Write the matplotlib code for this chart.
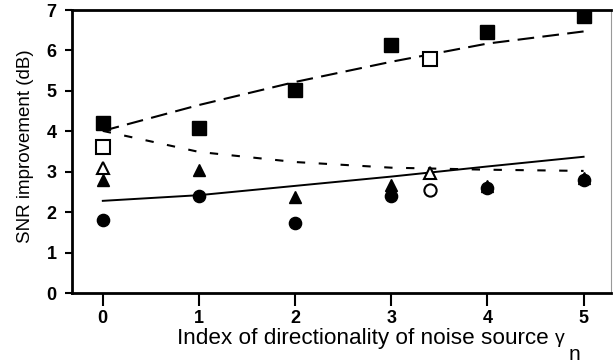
import matplotlib
matplotlib.use('Agg')
import matplotlib.pyplot as plt

plt.rcParams['font.family'] = ['Liberation Sans', 'DejaVu Sans']

# measured points
x_full = [0, 1, 2, 3, 4, 5]
sq_filled = [4.2, 4.08, 5.02, 6.14, 6.46, 6.86]
tri_filled = [2.8, 3.04, 2.38, 2.67, 2.65, 2.85]
circ_filled = [1.81, 2.4, 1.73, 2.4, 2.6, 2.8]

x_open = [0, 3.4]
sq_open = [3.61, 5.79]
tri_open = [3.09, 2.97]
x_circ_open = [3.4]
circ_open = [2.55]

# fitted curves
x_line = [0, 1, 2, 3, 4, 5]
long_dash = [4.01, 4.65, 5.22, 5.72, 6.17, 6.47]
short_dash = [4.01, 3.49, 3.24, 3.1, 3.05, 3.02]
solid = [2.28, 2.42, 2.65, 2.88, 3.13, 3.37]

fig = plt.figure(figsize=(6.13, 3.64), dpi=100)
ax = fig.add_axes([0.1175, 0.195, 0.88, 0.7775])

ax.plot(x_line, long_dash, color='black', lw=1.5, dashes=(8, 4))
ax.plot(x_line, short_dash, color='black', lw=1.5, dashes=(4, 6.5))
ax.plot(x_line, solid, color='black', lw=1.4)

ax.plot(x_full, sq_filled, 's', color='black', ms=10)
ax.plot(x_full, tri_filled, '^', color='black', ms=9)
ax.plot(x_full, circ_filled, 'o', color='black', ms=8.8)
ax.plot(x_open, sq_open, 's', mfc='white', mec='black', mew=1.5, ms=10)
ax.plot(x_open, tri_open, '^', mfc='white', mec='black', mew=1.5, ms=9)
ax.plot(x_circ_open, circ_open, 'o', mfc='white', mec='black', mew=1.5, ms=8.8)

ax.set_xlim(-0.32, 5.29)
ax.set_ylim(0, 7)
ax.set_xticks(x_full)
ax.set_yticks(range(8))
ax.tick_params(axis='x', direction='out', length=9, width=1.5, labelsize=13, pad=3)
ax.tick_params(axis='y', direction='out', length=5, width=1.5, labelsize=13, pad=6)
for lab in ax.get_xticklabels() + ax.get_yticklabels():
    lab.set_fontweight('bold')

for s in ['left', 'bottom', 'top']:
    ax.spines[s].set_linewidth(2)
ax.spines['right'].set_linewidth(0.8)
ax.spines['right'].set_color('#999999')

ax.set_ylabel('SNR improvement (dB)', fontsize=13.5, labelpad=9)
ax.yaxis.label.set_y(0.52)
ax.set_xlabel('Index of directionality of noise source', fontsize=16.2, labelpad=1)
ax.xaxis.label.set_x(0.5 + 21 / 539)

# gamma with a large lowered subscript n
fig.canvas.draw()
bb = ax.xaxis.label.get_window_extent()
W, H = fig.bbox.width, fig.bbox.height
base = bb.y0 + 6
fig.text((bb.x1 + 6) / W, base / H, 'γ', fontsize=14, ha='left', va='baseline')
fig.text((bb.x1 + 20) / W, 3.5 / H, 'n', fontsize=15, ha='left', va='baseline')

fig.savefig('out.png', dpi=100)
